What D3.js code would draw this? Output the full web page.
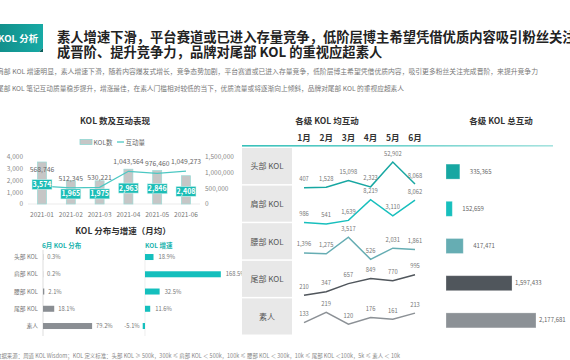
<!DOCTYPE html>
<html><head><meta charset="utf-8">
<script src="https://cdn.jsdelivr.net/npm/d3@7"></script>
<style>
html,body{margin:0;padding:0;background:#fff;}
svg{display:block;font-family:"Noto Sans CJK SC","Noto Sans",sans-serif;}
</style></head>
<body>
<script>
// ---------- DATA ----------
const months = ["2021-01","2021-02","2021-03","2021-04","2021-05","2021-06"];
const kolCount = [3574,1965,1975,2963,2846,2408];
const interactions = [568746,512345,530221,1043564,976460,1049273];
const leftTicks = [0,1000,2000,3000,4000];
const rightTicks = [0,500000,1000000,1500000];

const levels = ["头部 KOL","肩部 KOL","腰部 KOL","尾部 KOL","素人"];
const juneDistribution = [0.3,0.2,2.1,18.1,79.2];
const growthRate = [18.9,168.5,32.5,11.6,-5.1];

const monthsCN = ["1月","2月","3月","4月","5月","6月"];
const avgTop = [407,1528,15098,2323,52902,8068];
const avgShoulder = [986,541,1639,8219,3110,8062];
const avgWaist = [1396,1275,3517,526,2031,1861];
const avgTail = [210,347,657,849,770,995];
const avgAmateur = [133,219,120,176,161,213];
const avgSeries = [avgTop, avgShoulder, avgWaist, avgTail, avgAmateur];

const totalInteraction = [335365,152659,417471,1597433,2177681];

// ---------- STYLE ----------
const levelColors = ["#17a7a2","#17bfbd","#66adb3","#50565c","#8c9196"];
const fmt = d3.format(",");

const svg = d3.select("body").append("svg").attr("width",570).attr("height",360);
const defs = svg.append("defs");
const g1 = defs.append("linearGradient").attr("id","tagGrad").attr("x1","0").attr("x2","1");
g1.append("stop").attr("offset","0").attr("stop-color","#128f8b");
g1.append("stop").attr("offset","1").attr("stop-color","#17aaa5");
const g2 = defs.append("linearGradient").attr("id","lineGrad").attr("x1","0").attr("x2","1");
g2.append("stop").attr("offset","0").attr("stop-color","#36c0b9");
g2.append("stop").attr("offset","1").attr("stop-color","#a6e3df");

// ---------- HEADER ----------
svg.append("path").attr("d","M-2,24 H43 V48 L39,52 H-2 Z").attr("fill","url(#tagGrad)");
svg.append("path").attr("d","M39,52 L43,48 L43,52 Z").attr("fill","#0b5f5c");
svg.append("text").attr("x",-2).attr("y",41.5).attr("fill","#fff").attr("font-size",9.5).attr("font-weight","bold").text("KOL 分析");

svg.append("text").attr("x",57).attr("y",42).attr("font-size",13.3).attr("font-weight","bold").attr("fill","#222")
  .text("素人增速下滑，平台赛道或已进入存量竞争，低阶层博主希望凭借优质内容吸引粉丝关注完");
svg.append("text").attr("x",57).attr("y",56.5).attr("font-size",13.3).attr("font-weight","bold").attr("fill","#222")
  .text("成晋阶、提升竞争力，品牌对尾部 KOL 的重视应超素人");

svg.append("text").attr("x",-3).attr("y",74).attr("font-size",6.4).attr("fill","#777")
  .attr("textLength",541).attr("lengthAdjust","spacingAndGlyphs")
  .text("肩部 KOL 增速明显，素人增速下滑，随着内容爆发式增长，竞争态势加剧，平台赛道或已进入存量竞争，低阶层博主希望凭借优质内容，吸引更多粉丝关注完成晋阶，来提升竞争力");
svg.append("text").attr("x",-3).attr("y",91).attr("font-size",6.4).attr("fill","#777")
  .attr("textLength",407).attr("lengthAdjust","spacingAndGlyphs")
  .text("尾部 KOL 笔记互动质量稳步提升，增涨最佳，在素人门槛相对较低的当下，优质流量或将逐渐向上倾斜，品牌对尾部 KOL 的重视应超素人");

// ---------- CHART 1 ----------
svg.append("text").attr("x",115).attr("y",124).attr("text-anchor","middle").attr("font-size",8.5).attr("font-weight","bold").attr("fill","#333").text("KOL 数及互动表现");
// legend
svg.append("rect").attr("x",80).attr("y",139.5).attr("width",12).attr("height",5).attr("fill","#c6c6c6").attr("stroke","#8fd6d2").attr("stroke-width",0.8);
svg.append("text").attr("x",93.5).attr("y",144.5).attr("font-size",6.5).attr("fill","#666").text("KOL数");
svg.append("line").attr("x1",117).attr("x2",124).attr("y1",142).attr("y2",142).attr("stroke","#4cc8c3").attr("stroke-width",1.3);
svg.append("text").attr("x",125.5).attr("y",144.5).attr("font-size",6.5).attr("fill","#666").text("互动量");

const x1 = d3.scalePoint().domain(months).range([42,186]);
const yL = d3.scaleLinear().domain([0,4000]).range([204,157]);
const yR = d3.scaleLinear().domain([0,1500000]).range([204,157]);

svg.append("line").attr("x1",28).attr("x2",200).attr("y1",yL(0)).attr("y2",yL(0)).attr("stroke","#ddd").attr("stroke-width",0.6);
svg.append("g").selectAll("text").data(leftTicks).join("text")
  .attr("x",23).attr("y",d=>yL(d)+2.3).attr("text-anchor","end").attr("font-size",6.5).attr("fill","#888").text(d=>fmt(d));
svg.append("g").selectAll("text").data(rightTicks).join("text")
  .attr("x",205).attr("y",d=>yR(d)+2.3).attr("font-size",6.5).attr("fill","#888").text(d=>fmt(d));
svg.append("g").selectAll("text").data(months).join("text")
  .attr("x",d=>x1(d)).attr("y",216.5).attr("text-anchor","middle").attr("font-size",6.5).attr("fill","#777").text(d=>d);

const bw = 9;
svg.append("g").selectAll("rect").data(kolCount).join("rect")
  .attr("x",(d,i)=>x1(months[i])-bw/2).attr("width",bw)
  .attr("y",d=>yL(d)).attr("height",d=>yL(0)-yL(d))
  .attr("fill","#c6c6c6").attr("stroke","#9bdad6").attr("stroke-width",0.7);

const line1 = d3.line().x((d,i)=>x1(months[i])).y(d=>yR(d));
svg.append("path").attr("d",line1(interactions)).attr("fill","none").attr("stroke","#4cc8c3").attr("stroke-width",1.3);

// box labels
const boxCy = kolCount.map(d=>yL(d/2)+1.5);
const bxg = svg.append("g");
kolCount.forEach((d,i)=>{
  const cx = x1(months[i]);
  bxg.append("rect").attr("x",cx-10).attr("y",boxCy[i]-5).attr("width",20).attr("height",10)
    .attr("fill","#1cbdb6").attr("stroke","#d8f3f1").attr("stroke-width",0.6);
  bxg.append("text").attr("x",cx).attr("y",boxCy[i]+2.5).attr("text-anchor","middle")
    .attr("font-size",7).attr("font-weight","bold").attr("fill","#fff").text(fmt(d));
});
// line value labels
svg.append("g").selectAll("text").data(interactions).join("text")
  .attr("x",(d,i)=>x1(months[i])).attr("y",(d,i)=>{
    let y = yR(d)-9; const boxTop = boxCy[i]-5;
    if (y + 4 > boxTop && yR(d) > boxTop) y = boxTop - 10;
    return y+2;
  })
  .attr("text-anchor","middle").attr("font-size",6.8).attr("fill","#666").text(d=>fmt(d));

// ---------- CHART 2 ----------
svg.append("text").attr("x",123).attr("y",234).attr("text-anchor","middle").attr("font-size",8.5).attr("font-weight","bold").attr("fill","#333").text("KOL 分布与增速（月均）");
svg.append("text").attr("x",42).attr("y",247.5).attr("font-size",6.5).attr("font-weight","bold").attr("fill","#1ab3ad").text("6月 KOL 分布");
svg.append("text").attr("x",145).attr("y",247.5).attr("font-size",6.5).attr("font-weight","bold").attr("fill","#1ab3ad").text("KOL 增速");

const y2 = d3.scaleBand().domain(levels).range([248.4,334.65]);
const xDist = d3.scaleLinear().domain([0,100]).range([43,105]);
const xGrow = d3.scaleLinear().domain([-20,180]).range([136,226]);
const bh2 = 6;

svg.append("line").attr("x1",43).attr("x2",43).attr("y1",250).attr("y2",336).attr("stroke","#c8c8c8").attr("stroke-width",0.6);
svg.append("line").attr("x1",xGrow(0)).attr("x2",xGrow(0)).attr("y1",250).attr("y2",336).attr("stroke","#e2e2e2").attr("stroke-width",0.6);

svg.append("g").selectAll("text").data(levels).join("text")
  .attr("x",38).attr("y",d=>y2(d)+y2.bandwidth()/2+2).attr("text-anchor","end")
  .attr("font-size",5.8).attr("fill","#777").text(d=>d);

svg.append("g").selectAll("rect").data(juneDistribution).join("rect")
  .attr("x",xDist(0)).attr("y",(d,i)=>y2(levels[i])+y2.bandwidth()/2-bh2/2)
  .attr("width",d=>xDist(d)-xDist(0)).attr("height",bh2).attr("fill","#8a8e93");
svg.append("g").selectAll("text").data(juneDistribution).join("text")
  .attr("x",d=>xDist(d)+4).attr("y",(d,i)=>y2(levels[i])+y2.bandwidth()/2+2)
  .attr("font-size",5.8).attr("fill","#777").text(d=>d.toFixed(1)+"%");

svg.append("g").selectAll("rect").data(growthRate).join("rect")
  .attr("x",d=>Math.min(xGrow(0),xGrow(d))).attr("y",(d,i)=>y2(levels[i])+y2.bandwidth()/2-bh2/2)
  .attr("width",d=>Math.abs(xGrow(d)-xGrow(0))).attr("height",bh2).attr("fill","#14bfbd");
svg.append("g").selectAll("text").data(growthRate).join("text")
  .attr("x",d=>d>=0?xGrow(d)+5:xGrow(d)-3).attr("text-anchor",d=>d>=0?"start":"end")
  .attr("y",(d,i)=>y2(levels[i])+y2.bandwidth()/2+2)
  .attr("font-size",5.8).attr("fill","#777").text(d=>d.toFixed(1)+"%");

// ---------- CHART 3 ----------
svg.append("text").attr("x",327).attr("y",124).attr("text-anchor","middle").attr("font-size",8.5).attr("font-weight","bold").attr("fill","#333").text("各级 KOL 均互动");
const x3 = d3.scalePoint().domain(monthsCN).range([304,415]);
svg.append("g").selectAll("text").data(monthsCN).join("text")
  .attr("x",d=>x3(d)).attr("y",141).attr("text-anchor","middle").attr("font-size",8.5).attr("font-weight","bold").attr("fill","#333").text(d=>d);
svg.append("rect").attr("x",242).attr("y",145).attr("width",311).attr("height",1.6).attr("fill","url(#lineGrad)");

const y3 = d3.scaleBand().domain(levels).range([148,336]);
svg.append("g").selectAll("rect").data(levels).join("rect")
  .attr("x",242).attr("width",50).attr("y",d=>y3(d)).attr("height",y3.bandwidth()-1.5).attr("fill","#e8e8e8");
svg.append("g").selectAll("text").data(levels).join("text")
  .attr("x",267).attr("y",d=>y3(d)+y3.bandwidth()/2+2.5).attr("text-anchor","middle")
  .attr("font-size",8).attr("fill","#555").text(d=>d);

avgSeries.forEach((series,r)=>{
  const top = y3(levels[r]);
  const ys = d3.scaleLinear().domain([0,d3.max(series)]).range([top+40,top+14]);
  const ln = d3.line().x((d,i)=>x3(monthsCN[i])).y(d=>ys(d));
  svg.append("path").attr("d",ln(series)).attr("fill","none").attr("stroke",levelColors[r]).attr("stroke-width",1.5);
  svg.append("g").selectAll("text").data(series).join("text")
    .attr("x",(d,i)=>x3(monthsCN[i])).attr("y",d=>ys(d)-6.5).attr("text-anchor","middle")
    .attr("font-size",5.8).attr("fill","#777").text(d=>fmt(d));
});

// ---------- CHART 4 ----------
svg.append("text").attr("x",501).attr("y",124).attr("text-anchor","middle").attr("font-size",8.5).attr("font-weight","bold").attr("fill","#333").text("各级 KOL 总互动");
const y4 = d3.scaleBand().domain(levels).range([153,339]);
const x4 = d3.scaleLinear().domain([0,2177681]).range([446,536]);
const bh4 = 15;
svg.append("g").selectAll("rect").data(totalInteraction).join("rect")
  .attr("x",x4(0)).attr("y",(d,i)=>y4(levels[i])+y4.bandwidth()/2-bh4/2)
  .attr("width",d=>x4(d)-x4(0)).attr("height",bh4)
  .attr("fill",(d,i)=>levelColors[i]).attr("stroke","#fff").attr("stroke-opacity",0.35).attr("stroke-width",0.8);
svg.append("g").selectAll("text").data(totalInteraction).join("text")
  .attr("x",d=>x4(d)+(d>1000000?3:10)).attr("y",(d,i)=>y4(levels[i])+y4.bandwidth()/2+2)
  .attr("font-size",6).attr("fill","#666").text(d=>fmt(d));

// ---------- FOOTER ----------
svg.append("text").attr("x",-4).attr("y",357.5).attr("font-size",5.8).attr("fill","#888")
  .attr("textLength",404).attr("lengthAdjust","spacingAndGlyphs")
  .text("数据来源：周道 KOL Wisdom；KOL 定义标准：头部 KOL ≥ 500k，300k ≤ 肩部 KOL ＜ 500k，100k ≤ 腰部 KOL ＜ 300k，10k ≤ 尾部 KOL ＜100k，5k ≤ 素人 ＜ 10k");
</script>
</body></html>
